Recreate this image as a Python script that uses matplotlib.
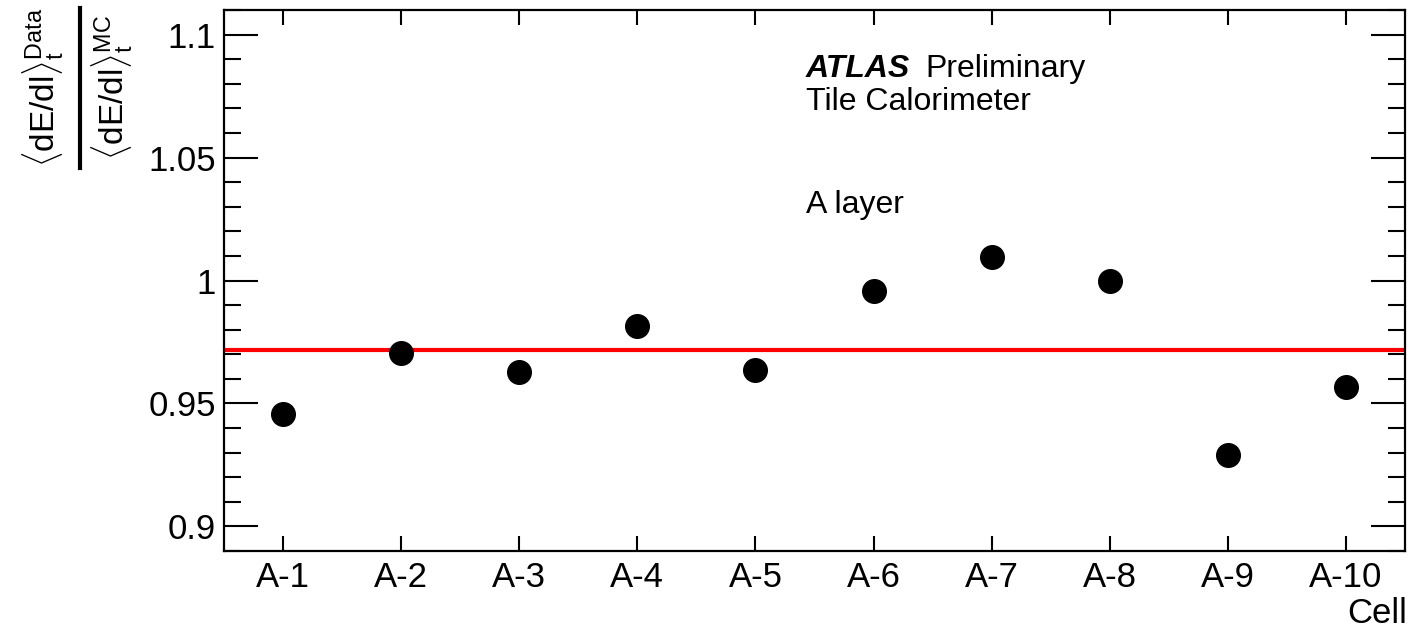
import matplotlib
matplotlib.use("Agg")
import matplotlib.pyplot as plt
from matplotlib.ticker import MultipleLocator, FixedLocator
from matplotlib.lines import Line2D

plt.rcParams['font.family'] = ['Liberation Sans', 'DejaVu Sans']
plt.rcParams['mathtext.fontset'] = 'custom'
plt.rcParams['mathtext.rm'] = 'Liberation Sans'
plt.rcParams['mathtext.it'] = 'Liberation Sans:italic'
plt.rcParams['mathtext.bf'] = 'Liberation Sans:bold'

cells = ['A-1', 'A-2', 'A-3', 'A-4', 'A-5', 'A-6', 'A-7', 'A-8', 'A-9', 'A-10']
ratio = [0.9459, 0.9707, 0.9626, 0.9817, 0.9638, 0.9959, 1.0097, 1.0000, 0.9289, 0.9567]
mean_ratio = 0.9718

W, H = 1428, 632
fig = plt.figure(figsize=(W / 100, H / 100), dpi=100)
ax = fig.add_axes([224 / W, 1 - 551 / H, (1405 - 224) / W, (551 - 10) / H])

x = list(range(1, len(cells) + 1))
ax.axhline(mean_ratio, color='#ff0000', lw=3)
ax.plot(x, ratio, 'o', color='black', markersize=17, zorder=3)

ax.set_xlim(0.5, len(cells) + 0.5)
ax.set_ylim(0.89, 1.11)

ax.xaxis.set_major_locator(FixedLocator(x))
ax.set_xticklabels(cells)
ax.set_yticks([0.9, 0.95, 1.0, 1.05, 1.1])
ax.set_yticklabels(['0.9', '0.95', '1', '1.05', '1.1'])
ax.yaxis.set_minor_locator(MultipleLocator(0.01))

ax.tick_params(axis='both', which='both', direction='in', top=True, right=True,
               width=1.5, labelsize=25)
ax.tick_params(axis='y', which='major', length=24.5, pad=6)
ax.tick_params(axis='y', which='minor', length=12)
ax.tick_params(axis='x', which='major', length=11, pad=7)
for s in ax.spines.values():
    s.set_linewidth(1.6)

fig.text(1407 / W, 1 - 623 / H, 'Cell', ha='right', va='baseline', fontsize=25)

fig.text(806 / W, 1 - 77 / H, 'ATLAS', fontsize=23, fontweight='bold', fontstyle='italic',
         va='baseline', ha='left')
fig.text(925 / W, 1 - 77 / H, 'Preliminary', fontsize=23, va='baseline', ha='left')
fig.text(806 / W, 1 - 110 / H, 'Tile Calorimeter', fontsize=23, va='baseline', ha='left')
fig.text(806 / W, 1 - 213 / H, 'A layer', fontsize=23, va='baseline', ha='left')

# y-axis label as a fraction
fig.text(43 / W, 1 - 167 / H, r'$\langle\mathrm{dE/dl}\rangle_{\mathrm{t}}^{\mathrm{Data}}$',
         rotation=90, ha='center', va='bottom', fontsize=24)
fig.text(112 / W, 1 - 160 / H, r'$\langle\mathrm{dE/dl}\rangle_{\mathrm{t}}^{\mathrm{MC}}$',
         rotation=90, ha='center', va='bottom', fontsize=24)
fig.add_artist(Line2D([80 / W, 80 / W], [1 - 168 / H, 1 - 8 / H], transform=fig.transFigure,
                      color='black', lw=3))

fig.savefig('out.png', dpi=100)
